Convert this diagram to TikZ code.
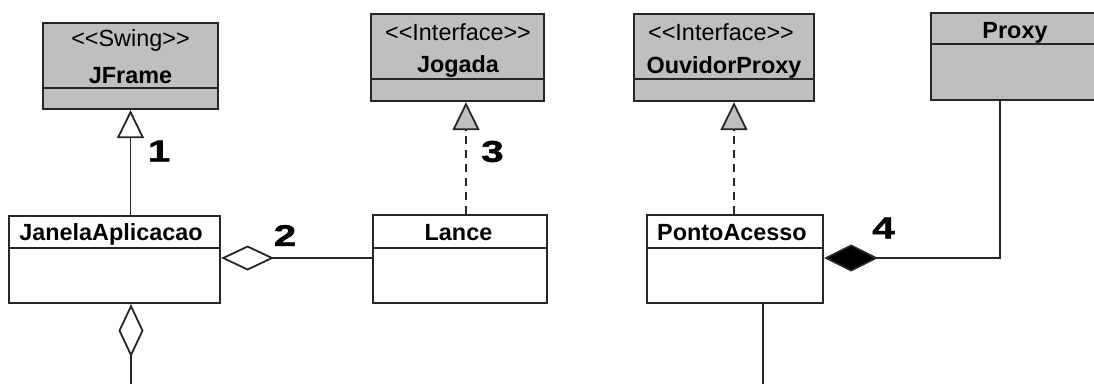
\documentclass[tikz,border=0pt]{standalone}
\usepackage{fontspec}
\setmainfont{Liberation Sans}
\newfontfamily\numfont[FakeStretch=1.35,FakeBold=1.6]{Liberation Sans}
\usetikzlibrary{arrows.meta,positioning}
\newcommand\ltlt{<\kern0pt<}
\newcommand\gtgt{>\kern0pt>}
\tikzset{%
    classbox/.style={%
        draw=black!85, line width=2.2pt, inner sep=0pt, fill=white
    },
    greybox/.style={fill=black!25},
    divider/.style={draw=black!85, line width=2.2pt},
    classname/.style={font=\fontsize{23.4}{28}\selectfont\bfseries, anchor=base},
    stereo/.style={font=\fontsize{23.4}{28}\selectfont, anchor=base},
    numlabel/.style={font=\numfont\fontsize{30}{36}\selectfont\bfseries},
    link/.style={line width=1.8pt, draw=black!85},
    inherit/.style={link, -{Triangle[length=28pt, width=27pt, fill=white]}},
    realize/.style={link, dash pattern=on 8pt off 6pt,
        -{Triangle[length=28pt, width=27pt, fill=black!25]}},
    aggr/.style={link, {Diamond[length=53pt, width=25pt, fill=white]}-},
    compo/.style={link, {Diamond[length=54pt, width=27pt, fill=black]}-}
}

\begin{document}
\begin{tikzpicture}[x=1pt, y=-1pt]
    \useasboundingbox (0,0) rectangle (1094,383);

    % classes
    \node[classbox, greybox, minimum width=175pt, minimum height=86pt] (jframe) at (130.5,66) {};
    \node[classbox, greybox, minimum width=173pt, minimum height=87pt] (jogada) at (457.5,57.5) {};
    \node[classbox, greybox, minimum width=180pt, minimum height=87pt] (ouvidor) at (724,57.5) {};
    \node[classbox, greybox, minimum width=169pt, minimum height=87pt] (proxy) at (1015.5,56.5) {};
    \node[classbox, minimum width=211pt, minimum height=87pt] (janela) at (114.5,259.5) {};
    \node[classbox, minimum width=174pt, minimum height=88pt] (lance) at (460,259) {};
    \node[classbox, minimum width=176pt, minimum height=88pt] (ponto) at (735,259) {};

    \draw[divider] (jframe.west |- 0,88) -- (jframe.east |- 0,88);
    \draw[divider] (jogada.west |- 0,79) -- (jogada.east |- 0,79);
    \draw[divider] (ouvidor.west |- 0,79) -- (ouvidor.east |- 0,79);
    \draw[divider] (proxy.west |- 0,44) -- (proxy.east |- 0,44);
    \draw[divider] (janela.west |- 0,248) -- (janela.east |- 0,248);
    \draw[divider] (lance.west |- 0,248) -- (lance.east |- 0,248);
    \draw[divider] (ponto.west |- 0,248) -- (ponto.east |- 0,248);

    \node[stereo] (jframest) at (130.5,46.5) {\ltlt Swing\gtgt};
    \node[classname] (jframett) at (130.5,83) {JFrame};
    \node[stereo] (jogadast) at (458,40) {\ltlt Interface\gtgt};
    \node[classname] (jogadatt) at (458,72) {Jogada};
    \node[stereo] (ouvidorst) at (721,40) {\ltlt Interface\gtgt};
    \node[classname] (ouvidortt) at (724,73) {OuvidorProxy};
    \node[classname] (proxytt) at (1015,38.5) {Proxy};
    \node[classname] (janelatt) at (111,240) {JanelaAplicacao};
    \node[classname] (lancett) at (458.5,240.5) {Lance};
    \node[classname] (pontott) at (732,240) {PontoAcesso};

    % relations
    \draw[inherit] (janela.north -| jframe.south) -- (jframe.south);
    \draw[realize] ([xshift=6pt]lance.north) -- ([xshift=6pt]lance.north |- jogada.south);
    \draw[realize] ([xshift=-1pt]ponto.north) -- ([xshift=-1pt]ponto.north |- ouvidor.south);
    \draw[aggr] (janela.east |- 0,258) -- (lance.west |- 0,258);
    \coordinate (janelaout) at (131,390);
    \draw[aggr] (janela.south -| janelaout) -- (janelaout);
    \draw[compo] (ponto.east |- 0,258) -- ([xshift=-15.5pt]proxy.south |- 0,258)
        -- ([xshift=-15.5pt]proxy.south);
    \coordinate (pontoout) at (763,390);
    \draw[link] (ponto.south -| pontoout) -- (pontoout);

    \node[numlabel] (n1) at (159,151) {1};
    \node[numlabel] (n2) at (285,235.5) {2};
    \node[numlabel] (n3) at (492.5,151.5) {3};
    \node[numlabel] (n4) at (883.5,228) {4};
\end{tikzpicture}
\end{document}
